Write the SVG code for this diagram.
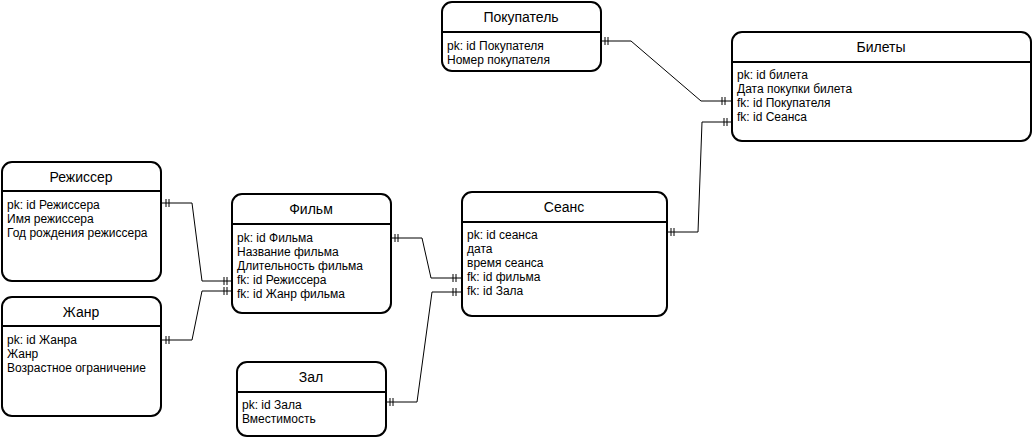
<svg xmlns="http://www.w3.org/2000/svg" width="1032" height="437" viewBox="0 0 1032 437">
<style>
.box{fill:#fff;stroke:#000;stroke-width:2}
.div{stroke:#000;stroke-width:2}
.t{font-family:"Liberation Sans",Arial,sans-serif;font-size:14px;text-anchor:middle;fill:#000}
.r{font-family:"Liberation Sans",Arial,sans-serif;font-size:12px;fill:#000}
.c{fill:none;stroke:#000;stroke-width:1}
</style>
<rect width="1032" height="437" fill="#fff"/>
<g id="connectors">
<path class="c" d="M601 41H631L701 101H732"/>
<path class="c" d="M605 37v8M608 37v8M722 97v8M725 97v8"/>
<path class="c" d="M667 232H698L702 122H732"/>
<path class="c" d="M671 228v8M674 228v8M724 118v8M727 118v8"/>
<path class="c" d="M161 203H192L202 281H232"/>
<path class="c" d="M166 199v8M169 199v8M224 277v8M227 277v8"/>
<path class="c" d="M161 340H192L202 291H232"/>
<path class="c" d="M166 336v8M169 336v8M224 287v8M227 287v8"/>
<path class="c" d="M391 238H422L431 278H462"/>
<path class="c" d="M395 234v8M398 234v8M453 274v8M456 274v8"/>
<path class="c" d="M386 402H417L432 292H462"/>
<path class="c" d="M390 398v8M393 398v8M453 288v8M456 288v8"/>
</g>
<g id="pokupatel">
<rect class="box" x="442" y="2" width="159" height="69" rx="10"/>
<line class="div" x1="442" y1="32" x2="601" y2="32"/>
<text class="t" x="521" y="22">Покупатель</text>
<text class="r" x="447" y="50">pk: id Покупателя</text>
<text class="r" x="447" y="64">Номер покупателя</text>
</g>
<g id="bilety">
<rect class="box" x="732" y="32" width="299" height="109" rx="10"/>
<line class="div" x1="732" y1="62" x2="1031" y2="62"/>
<text class="t" x="881" y="52">Билеты</text>
<text class="r" x="737" y="79">pk: id билета</text>
<text class="r" x="737" y="93">Дата покупки билета</text>
<text class="r" x="737" y="107">fk: id Покупателя</text>
<text class="r" x="737" y="121">fk: id Сеанса</text>
</g>
<g id="rezhisser">
<rect class="box" x="2" y="162" width="159" height="119" rx="10"/>
<line class="div" x1="2" y1="191" x2="161" y2="191"/>
<text class="t" x="81" y="182">Режиссер</text>
<text class="r" x="7" y="209">pk: id Режиссера</text>
<text class="r" x="7" y="223">Имя режиссера</text>
<text class="r" x="7" y="237">Год рождения режиссера</text>
</g>
<g id="zhanr">
<rect class="box" x="2" y="297" width="159" height="119" rx="10"/>
<line class="div" x1="2" y1="326" x2="161" y2="326"/>
<text class="t" x="81" y="317">Жанр</text>
<text class="r" x="7" y="344">pk: id Жанра</text>
<text class="r" x="7" y="358">Жанр</text>
<text class="r" x="7" y="372">Возрастное ограничение</text>
</g>
<g id="film">
<rect class="box" x="232" y="194" width="159" height="119" rx="10"/>
<line class="div" x1="232" y1="224" x2="391" y2="224"/>
<text class="t" x="311" y="214">Фильм</text>
<text class="r" x="237" y="242">pk: id Фильма</text>
<text class="r" x="237" y="256">Название фильма</text>
<text class="r" x="237" y="270">Длительность фильма</text>
<text class="r" x="237" y="284">fk: id Режиссера</text>
<text class="r" x="237" y="298">fk: id Жанр фильма</text>
</g>
<g id="seans">
<rect class="box" x="462" y="192" width="205" height="124" rx="10"/>
<line class="div" x1="462" y1="222" x2="667" y2="222"/>
<text class="t" x="564" y="212">Сеанс</text>
<text class="r" x="467" y="239">pk: id сеанса</text>
<text class="r" x="467" y="253">дата</text>
<text class="r" x="467" y="267">время сеанса</text>
<text class="r" x="467" y="281">fk: id фильма</text>
<text class="r" x="467" y="295">fk: id Зала</text>
</g>
<g id="zal">
<rect class="box" x="237" y="362" width="149" height="74" rx="10"/>
<line class="div" x1="237" y1="392" x2="386" y2="392"/>
<text class="t" x="311" y="382">Зал</text>
<text class="r" x="242" y="409">pk: id Зала</text>
<text class="r" x="242" y="423">Вместимость</text>
</g>
</svg>
